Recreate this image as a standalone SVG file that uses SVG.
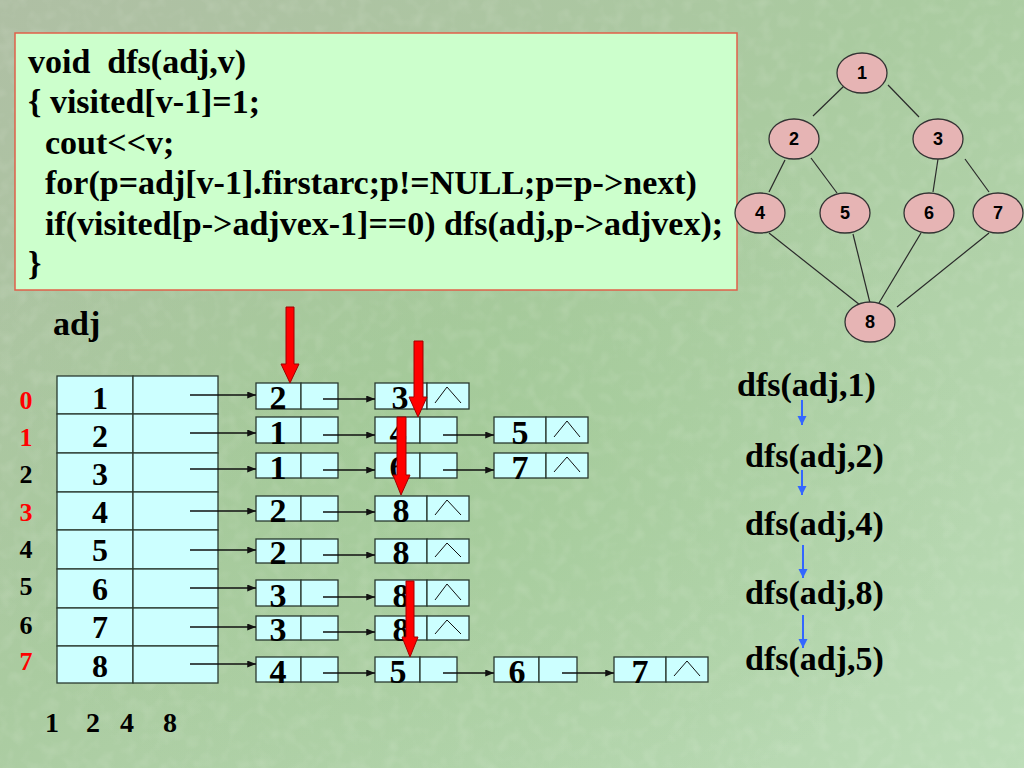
<svg xmlns="http://www.w3.org/2000/svg" width="1024" height="768" viewBox="0 0 1024 768">
<defs>
<linearGradient id="bg" x1="0" y1="0" x2="1" y2="1">
<stop offset="0" stop-color="#AFBFA4"/>
<stop offset="0.45" stop-color="#AACBA0"/>
<stop offset="1" stop-color="#BCDDB8"/>
</linearGradient>
<radialGradient id="bg2" cx="0.45" cy="0.6" r="0.5">
<stop offset="0" stop-color="#9CC890" stop-opacity="0.5"/>
<stop offset="1" stop-color="#9CC890" stop-opacity="0"/>
</radialGradient>
<filter id="tex" x="0" y="0" width="100%" height="100%">
<feTurbulence type="fractalNoise" baseFrequency="0.07" numOctaves="2" seed="5"/>
<feColorMatrix type="matrix" values="0 0 0 0 1  0 0 0 0 1  0 0 0 0 0.95  0 0 0 -2 1.1"/>
</filter>
<marker id="ah" viewBox="0 0 10 8" refX="10" refY="4" markerWidth="9" markerHeight="7" markerUnits="userSpaceOnUse" orient="auto">
<path d="M0,0 L10,4 L0,8 Z" fill="#111"/>
</marker>
<marker id="bh" viewBox="0 0 10 10" refX="10" refY="5" markerWidth="9" markerHeight="10" markerUnits="userSpaceOnUse" orient="auto">
<path d="M0,0 L10,5 L0,10 Z" fill="#3366FF"/>
</marker>
<style>
.code{font-family:"Liberation Serif","Times New Roman",serif;font-weight:bold;font-size:34px;fill:#000}
.big{font-family:"Liberation Serif","Times New Roman",serif;font-weight:bold;fill:#000}
.cell{fill:#CCFFFF;stroke:#2A3A30;stroke-width:1.3}
.nil{fill:none;stroke:#111;stroke-width:1}
.ln{stroke:#111;stroke-width:1.3;fill:none}
.edge{stroke:#2A2A2A;stroke-width:1.2}
.gn{fill:#E6B4B4;stroke:#333;stroke-width:1.3}
.gl{font-family:"Liberation Sans",Arial,sans-serif;font-weight:bold;font-size:18px;fill:#000;text-anchor:middle}
.red{fill:#FF0000;stroke:#A00000;stroke-width:1}
.blue{stroke:#3366FF;stroke-width:2;fill:none}
.idx{font-family:"Liberation Serif","Times New Roman",serif;font-weight:bold;font-size:26px;text-anchor:middle}
.tnum{font-family:"Liberation Serif","Times New Roman",serif;font-weight:bold;font-size:32px;text-anchor:middle;fill:#000}
.nnum{font-family:"Liberation Serif","Times New Roman",serif;font-weight:bold;font-size:34px;text-anchor:middle;fill:#000}
</style>
</defs>
<rect width="1024" height="768" fill="url(#bg)"/>
<rect width="1024" height="768" fill="url(#bg2)"/>
<rect width="1024" height="768" filter="url(#tex)" opacity="0.12"/>

<g id="code-box">
<rect x="15" y="33" width="722" height="257" fill="#CCFFCC" stroke="#E0604A" stroke-width="1.5"/>
<text class="code" x="28" y="73" style="white-space:pre">void  dfs(adj,v)</text>
<text class="code" x="28" y="113">{ visited[v-1]=1;</text>
<text class="code" x="45" y="154">cout&lt;&lt;v;</text>
<text class="code" x="45" y="194">for(p=adj[v-1].firstarc;p!=NULL;p=p-&gt;next)</text>
<text class="code" x="45" y="235">if(visited[p-&gt;adjvex-1]==0) dfs(adj,p-&gt;adjvex);</text>
<text class="code" x="28" y="275">}</text>
</g>

<g id="adj-label"><text class="big" x="53" y="335" font-size="34">adj</text></g>

<g id="index-labels">
<text class="idx" x="26" y="409" fill="#FF0000">0</text>
<text class="idx" x="26" y="446" fill="#FF0000">1</text>
<text class="idx" x="26" y="483" fill="#000">2</text>
<text class="idx" x="26" y="521" fill="#FF0000">3</text>
<text class="idx" x="26" y="558" fill="#000">4</text>
<text class="idx" x="26" y="595" fill="#000">5</text>
<text class="idx" x="26" y="634" fill="#000">6</text>
<text class="idx" x="26" y="670" fill="#FF0000">7</text>
</g>

<g id="adj-table">
<g id="v1"><rect class="cell" x="57" y="376" width="76" height="38"/><rect class="cell" x="133" y="376" width="85" height="38"/><text class="tnum" x="100" y="409">1</text></g>
<g id="v2"><rect class="cell" x="57" y="414" width="76" height="39"/><rect class="cell" x="133" y="414" width="85" height="39"/><text class="tnum" x="100" y="447">2</text></g>
<g id="v3"><rect class="cell" x="57" y="453" width="76" height="39"/><rect class="cell" x="133" y="453" width="85" height="39"/><text class="tnum" x="100" y="485">3</text></g>
<g id="v4"><rect class="cell" x="57" y="492" width="76" height="38"/><rect class="cell" x="133" y="492" width="85" height="38"/><text class="tnum" x="100" y="523">4</text></g>
<g id="v5"><rect class="cell" x="57" y="530" width="76" height="39"/><rect class="cell" x="133" y="530" width="85" height="39"/><text class="tnum" x="100" y="561">5</text></g>
<g id="v6"><rect class="cell" x="57" y="569" width="76" height="39"/><rect class="cell" x="133" y="569" width="85" height="39"/><text class="tnum" x="100" y="600">6</text></g>
<g id="v7"><rect class="cell" x="57" y="608" width="76" height="38"/><rect class="cell" x="133" y="608" width="85" height="38"/><text class="tnum" x="100" y="638">7</text></g>
<g id="v8"><rect class="cell" x="57" y="646" width="76" height="37"/><rect class="cell" x="133" y="646" width="85" height="37"/><text class="tnum" x="100" y="677">8</text></g>
</g>

<g id="list-nodes">
<g id="n1a"><rect class="cell" x="256" y="383" width="45" height="26"/><rect class="cell" x="301" y="383" width="37" height="26"/><text class="nnum" x="278" y="409">2</text></g>
<g id="n1b"><rect class="cell" x="375" y="383" width="52" height="26"/><rect class="cell" x="427" y="383" width="42" height="26"/><path class="nil" d="M435,403 L447,387 L461,403"/><text class="nnum" x="400" y="409">3</text></g>
<g id="n2a"><rect class="cell" x="256" y="417" width="45" height="26"/><rect class="cell" x="301" y="417" width="37" height="26"/><text class="nnum" x="278" y="444">1</text></g>
<g id="n2b"><rect class="cell" x="375" y="417" width="45" height="26"/><rect class="cell" x="420" y="417" width="37" height="26"/><text class="nnum" x="398" y="444">4</text></g>
<g id="n2c"><rect class="cell" x="494" y="417" width="52" height="26"/><rect class="cell" x="546" y="417" width="42" height="26"/><path class="nil" d="M554,437 L567,421 L580,437"/><text class="nnum" x="520" y="444">5</text></g>
<g id="n3a"><rect class="cell" x="256" y="453" width="45" height="25"/><rect class="cell" x="301" y="453" width="37" height="25"/><text class="nnum" x="278" y="479">1</text></g>
<g id="n3b"><rect class="cell" x="375" y="453" width="45" height="25"/><rect class="cell" x="420" y="453" width="37" height="25"/><text class="nnum" x="398" y="479">6</text></g>
<g id="n3c"><rect class="cell" x="494" y="453" width="52" height="25"/><rect class="cell" x="546" y="453" width="42" height="25"/><path class="nil" d="M554,472 L567,457 L580,472"/><text class="nnum" x="520" y="479">7</text></g>
<g id="n4a"><rect class="cell" x="256" y="496" width="45" height="25"/><rect class="cell" x="301" y="496" width="37" height="25"/><text class="nnum" x="278" y="522">2</text></g>
<g id="n4b"><rect class="cell" x="375" y="496" width="52" height="25"/><rect class="cell" x="427" y="496" width="42" height="25"/><path class="nil" d="M435,515 L447,500 L461,515"/><text class="nnum" x="401" y="522">8</text></g>
<g id="n5a"><rect class="cell" x="256" y="539" width="45" height="24"/><rect class="cell" x="301" y="539" width="37" height="24"/><text class="nnum" x="278" y="564">2</text></g>
<g id="n5b"><rect class="cell" x="375" y="539" width="52" height="24"/><rect class="cell" x="427" y="539" width="42" height="24"/><path class="nil" d="M435,557 L447,543 L461,557"/><text class="nnum" x="401" y="564">8</text></g>
<g id="n6a"><rect class="cell" x="256" y="580" width="45" height="26"/><rect class="cell" x="301" y="580" width="37" height="26"/><text class="nnum" x="278" y="607">3</text></g>
<g id="n6b"><rect class="cell" x="375" y="580" width="52" height="26"/><rect class="cell" x="427" y="580" width="42" height="26"/><path class="nil" d="M435,600 L447,584 L461,600"/><text class="nnum" x="401" y="607">8</text></g>
<g id="n7a"><rect class="cell" x="256" y="616" width="45" height="24"/><rect class="cell" x="301" y="616" width="37" height="24"/><text class="nnum" x="278" y="641">3</text></g>
<g id="n7b"><rect class="cell" x="375" y="616" width="52" height="24"/><rect class="cell" x="427" y="616" width="42" height="24"/><path class="nil" d="M435,634 L447,620 L461,634"/><text class="nnum" x="401" y="641">8</text></g>
<g id="n8a"><rect class="cell" x="256" y="657" width="45" height="25"/><rect class="cell" x="301" y="657" width="37" height="25"/><text class="nnum" x="278" y="683">4</text></g>
<g id="n8b"><rect class="cell" x="375" y="657" width="45" height="25"/><rect class="cell" x="420" y="657" width="37" height="25"/><text class="nnum" x="398" y="683">5</text></g>
<g id="n8c"><rect class="cell" x="494" y="657" width="45" height="25"/><rect class="cell" x="539" y="657" width="38" height="25"/><text class="nnum" x="517" y="683">6</text></g>
<g id="n8d"><rect class="cell" x="614" y="657" width="52" height="25"/><rect class="cell" x="666" y="657" width="42" height="25"/><path class="nil" d="M674,676 L687,661 L700,676"/><text class="nnum" x="640" y="683">7</text></g>
</g>

<g id="connectors">
<line class="ln" x1="190" y1="395" x2="256" y2="395" marker-end="url(#ah)"/>
<line class="ln" x1="190" y1="433" x2="256" y2="433" marker-end="url(#ah)"/>
<line class="ln" x1="190" y1="469" x2="256" y2="469" marker-end="url(#ah)"/>
<line class="ln" x1="190" y1="511" x2="256" y2="511" marker-end="url(#ah)"/>
<line class="ln" x1="190" y1="550" x2="256" y2="550" marker-end="url(#ah)"/>
<line class="ln" x1="190" y1="588" x2="256" y2="588" marker-end="url(#ah)"/>
<line class="ln" x1="190" y1="627" x2="256" y2="627" marker-end="url(#ah)"/>
<line class="ln" x1="190" y1="664" x2="256" y2="664" marker-end="url(#ah)"/>

<line class="ln" x1="323" y1="399" x2="375" y2="399" marker-end="url(#ah)"/>
<line class="ln" x1="323" y1="435" x2="375" y2="435" marker-end="url(#ah)"/>
<line class="ln" x1="323" y1="470" x2="375" y2="470" marker-end="url(#ah)"/>
<line class="ln" x1="323" y1="512" x2="375" y2="512" marker-end="url(#ah)"/>
<line class="ln" x1="323" y1="555" x2="375" y2="555" marker-end="url(#ah)"/>
<line class="ln" x1="323" y1="597" x2="375" y2="597" marker-end="url(#ah)"/>
<line class="ln" x1="323" y1="632" x2="375" y2="632" marker-end="url(#ah)"/>
<line class="ln" x1="323" y1="673" x2="375" y2="673" marker-end="url(#ah)"/>

<line class="ln" x1="443" y1="435" x2="494" y2="435" marker-end="url(#ah)"/>
<line class="ln" x1="443" y1="470" x2="494" y2="470" marker-end="url(#ah)"/>
<line class="ln" x1="443" y1="673" x2="494" y2="673" marker-end="url(#ah)"/>
<line class="ln" x1="562" y1="673" x2="614" y2="673" marker-end="url(#ah)"/>

<line class="edge" x1="844" y1="86" x2="813" y2="116"/>
<line class="edge" x1="888" y1="85" x2="919" y2="117"/>
<line class="edge" x1="785" y1="160" x2="769" y2="192"/>
<line class="edge" x1="811" y1="158" x2="837" y2="193"/>
<line class="edge" x1="938" y1="159" x2="933" y2="192"/>
<line class="edge" x1="965" y1="159" x2="989" y2="192"/>
<line class="edge" x1="769" y1="233" x2="860" y2="305"/>
<line class="edge" x1="853" y1="234" x2="870" y2="303"/>
<line class="edge" x1="921" y1="233" x2="879" y2="303"/>
<line class="edge" x1="989" y1="233" x2="897" y2="307"/>

<line class="blue" x1="802" y1="400" x2="802" y2="425" marker-end="url(#bh)"/>
<line class="blue" x1="802" y1="470" x2="802" y2="495" marker-end="url(#bh)"/>
<line class="blue" x1="803" y1="545" x2="803" y2="578" marker-end="url(#bh)"/>
<line class="blue" x1="803" y1="615" x2="803" y2="648" marker-end="url(#bh)"/>
</g>

<g id="red-pointers">
<path class="red" d="M286,307 L294,307 L294,364 L299,364 L290,383 L281,364 L286,364 Z"/>
<path class="red" d="M414,341 L423,341 L423,397 L427,397 L418,417 L409,397 L414,397 Z"/>
<path class="red" d="M397,417 L406,417 L406,475 L410,475 L401,495 L393,475 L397,475 Z"/>
<path class="red" d="M406,581 L414,581 L414,637 L418,637 L410,657 L402,637 L406,637 Z"/>
</g>

<g id="graph">
<g id="g1"><ellipse class="gn" cx="862" cy="73" rx="25" ry="20"/><text class="gl" x="862" y="79">1</text></g>
<g id="g2"><ellipse class="gn" cx="794" cy="139" rx="25" ry="20"/><text class="gl" x="794" y="145">2</text></g>
<g id="g3"><ellipse class="gn" cx="938" cy="139" rx="25" ry="20"/><text class="gl" x="938" y="145">3</text></g>
<g id="g4"><ellipse class="gn" cx="760" cy="213" rx="25" ry="20"/><text class="gl" x="760" y="219">4</text></g>
<g id="g5"><ellipse class="gn" cx="845" cy="213" rx="25" ry="20"/><text class="gl" x="845" y="219">5</text></g>
<g id="g6"><ellipse class="gn" cx="929" cy="213" rx="25" ry="20"/><text class="gl" x="929" y="219">6</text></g>
<g id="g7"><ellipse class="gn" cx="998" cy="213" rx="25" ry="20"/><text class="gl" x="998" y="219">7</text></g>
<g id="g8"><ellipse class="gn" cx="870" cy="322" rx="25" ry="20"/><text class="gl" x="870" y="328">8</text></g>
</g>

<g id="dfs-calls">
<text class="big" font-size="34" x="737" y="396">dfs(adj,1)</text>
<text class="big" font-size="34" x="745" y="467">dfs(adj,2)</text>
<text class="big" font-size="34" x="745" y="535">dfs(adj,4)</text>
<text class="big" font-size="34" x="745" y="604">dfs(adj,8)</text>
<text class="big" font-size="34" x="745" y="670">dfs(adj,5)</text>
</g>

<g id="visit-order">
<text class="big" font-size="28" text-anchor="middle"><tspan x="52" y="732">1</tspan><tspan x="93" y="732">2</tspan><tspan x="127" y="732">4</tspan><tspan x="170" y="732">8</tspan></text>
</g>
</svg>
